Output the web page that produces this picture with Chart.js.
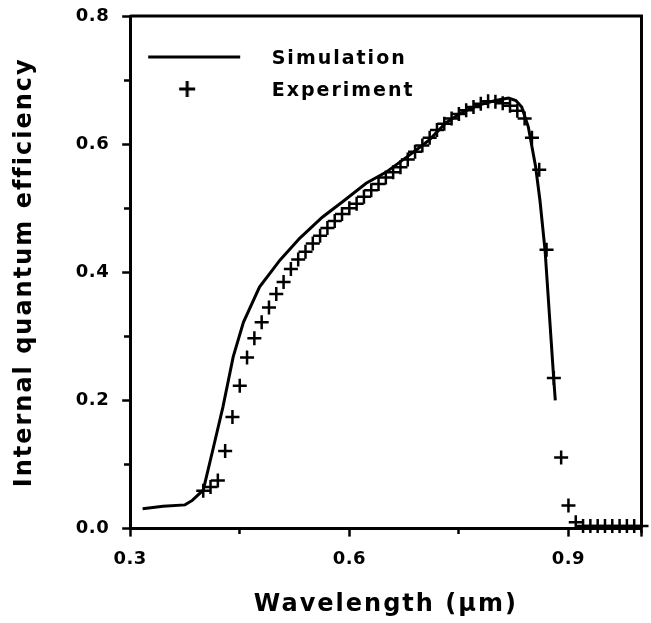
<!DOCTYPE html>
<html lang="en">
<head>
  <meta charset="UTF-8" />
  <title>Internal quantum efficiency</title>
  <script src="https://cdn.jsdelivr.net/npm/chart.js@4.4.1/dist/chart.umd.min.js"></script>
  <style>
    * { box-sizing: border-box; margin: 0; padding: 0; }
    html, body { width: 651px; height: 623px; background: #fff; overflow: hidden; }
    .chart-wrapper { position: relative; width: 651px; height: 623px; }
  </style>
</head>
<body>
  <div class="chart-wrapper">
    <canvas id="iqeChart"></canvas>
  </div>

  <script>
    // Simulation curve (wavelength in µm, IQE)
    const simWavelength = [0.317, 0.345, 0.375, 0.385, 0.400, 0.414, 0.427, 0.441, 0.455, 0.477,
                           0.505, 0.532, 0.563, 0.593, 0.623, 0.650, 0.686, 0.709, 0.732, 0.755,
                           0.777, 0.800, 0.818, 0.828, 0.836, 0.845, 0.855, 0.861, 0.868, 0.880, 0.882];
    const simIqe = [0.031, 0.035, 0.037, 0.044, 0.060, 0.127, 0.190, 0.268, 0.322, 0.377,
                    0.419, 0.453, 0.486, 0.512, 0.539, 0.556, 0.586, 0.606, 0.633, 0.650,
                    0.661, 0.668, 0.672, 0.668, 0.658, 0.627, 0.565, 0.512, 0.434, 0.231, 0.200];

    // Measured points
    const expWavelength = [0.40, 0.41, 0.42, 0.43, 0.44, 0.45, 0.46, 0.47, 0.48, 0.49,
                           0.50, 0.51, 0.52, 0.53, 0.54, 0.55, 0.56, 0.57, 0.58, 0.59,
                           0.60, 0.61, 0.62, 0.63, 0.64, 0.65, 0.66, 0.67, 0.68, 0.69,
                           0.70, 0.71, 0.72, 0.73, 0.74, 0.75, 0.76, 0.77, 0.78, 0.79,
                           0.80, 0.81, 0.82, 0.83, 0.84, 0.85, 0.86, 0.87, 0.88, 0.89,
                           0.90, 0.91, 0.92, 0.93, 0.94, 0.95, 0.96, 0.97, 0.98, 0.99, 1.00];
    const expIqe = [0.059, 0.065, 0.075, 0.121, 0.174, 0.223, 0.267, 0.297, 0.322, 0.345,
                    0.366, 0.385, 0.405, 0.420, 0.432, 0.445, 0.457, 0.469, 0.480, 0.491,
                    0.500, 0.507, 0.518, 0.528, 0.538, 0.548, 0.556, 0.564, 0.576, 0.588,
                    0.598, 0.610, 0.622, 0.632, 0.640, 0.647, 0.653, 0.658, 0.663, 0.667,
                    0.666, 0.664, 0.660, 0.652, 0.640, 0.610, 0.560, 0.435, 0.235, 0.111,
                    0.036, 0.010, 0.004, 0.004, 0.004, 0.004, 0.004, 0.004, 0.004, 0.004, 0.004];

    // Axis ticks
    const xTickValues = [0.3, 0.6, 0.9, 1.0];
    const xTickLabels = ['0.3', '0.6', '0.9', ''];
    const xMinorTicks = [0.45, 0.75];
    const yTickValues = [0.0, 0.2, 0.4, 0.6, 0.8];
    const yTickLabels = ['0.0', '0.2', '0.4', '0.6', '0.8'];
    const yMinorTicks = [0.1, 0.3, 0.5, 0.7];

    const seriesNames = ['Simulation', 'Experiment'];

    const simPoints = simWavelength.map((x, i) => ({ x: x, y: simIqe[i] }));
    const expPoints = expWavelength.map((x, i) => ({ x: x, y: expIqe[i] }));

    function labelFor(values, labels, v) {
      const i = values.findIndex(t => Math.abs(t - v) < 1e-6);
      return i >= 0 ? labels[i] : '';
    }

    // legend icons (line sample / cross), drawn on small canvases
    function makeLineIcon() {
      const c = document.createElement('canvas');
      c.width = 119; c.height = 12;
      const g = c.getContext('2d');
      g.strokeStyle = '#000'; g.lineWidth = 3;
      g.beginPath(); g.moveTo(5, 4); g.lineTo(97, 4); g.stroke();
      return c;
    }
    function makeCrossIcon() {
      const c = document.createElement('canvas');
      c.width = 119; c.height = 22;
      const g = c.getContext('2d');
      g.strokeStyle = '#000'; g.lineWidth = 3;
      g.beginPath();
      g.moveTo(36, 9); g.lineTo(52, 9);
      g.moveTo(44, 1); g.lineTo(44, 17);
      g.stroke();
      return c;
    }
    const legendIcons = [makeLineIcon(), makeCrossIcon()];

    // letter spacing: wide for titles/legend, tight for tick labels
    const spacingPlugin = {
      id: 'spacing',
      beforeLayout(chart) { chart.ctx.letterSpacing = '0.5px'; },
      beforeDraw(chart) { chart.ctx.letterSpacing = '2px'; },
      beforeDatasetsDraw(chart) { chart.ctx.letterSpacing = '0.5px'; },
      afterDraw(chart) { chart.ctx.letterSpacing = '0px'; }
    };

    // top and right edges of the box
    const framePlugin = {
      id: 'frame',
      beforeDatasetsDraw(chart) {
        const { ctx, chartArea: a } = chart;
        ctx.save();
        ctx.strokeStyle = '#000';
        ctx.lineWidth = 3;
        ctx.beginPath();
        ctx.moveTo(a.left, a.top);
        ctx.lineTo(a.right, a.top);
        ctx.lineTo(a.right, a.bottom);
        ctx.stroke();
        ctx.restore();
      }
    };

    Chart.defaults.font.family = '"DejaVu Sans", sans-serif';
    Chart.defaults.font.weight = 'bold';
    Chart.defaults.color = '#000';

    const ctx = document.getElementById('iqeChart').getContext('2d');
    new Chart(ctx, {
      type: 'line',
      data: {
        datasets: [{
          label: seriesNames[0],
          data: simPoints,
          borderColor: '#000',
          borderWidth: 3,
          pointRadius: 0,
          tension: 0,
          fill: false
        }, {
          label: seriesNames[1],
          data: expPoints,
          showLine: false,
          pointStyle: 'cross',
          pointRadius: 7,
          pointBorderWidth: 2.5,
          pointBorderColor: '#000',
          borderColor: '#000',
          clip: false
        }]
      },
      options: {
        responsive: true,
        maintainAspectRatio: false,
        animation: false,
        layout: { padding: { left: 0, right: 6, top: 16, bottom: 0 } },
        plugins: {
          tooltip: { enabled: false },
          legend: {
            position: 'chartArea',
            align: 'start',
            title: { display: true, text: ' ', font: { size: 10 }, padding: { top: 24.5, bottom: 0 } },
            labels: {
              usePointStyle: true,
              pointStyleWidth: 119,
              padding: 13,
              color: '#000',
              font: { size: 19, weight: 'bold' },
              generateLabels: () => seriesNames.map((name, i) => ({
                text: name,
                pointStyle: legendIcons[i],
                fontColor: '#000',
                lineWidth: 0,
                hidden: false,
                datasetIndex: i
              }))
            }
          }
        },
        scales: {
          x: {
            type: 'linear',
            position: 'bottom',
            min: 0.3,
            max: 1.0,
            afterBuildTicks: axis => { axis.ticks = xTickValues.map(v => ({ value: v })); },
            afterFit: axis => { axis.paddingRight = 0; },
            ticks: {
              padding: 12,
              z: 1,
              font: { size: 18, weight: 'bold' },
              maxRotation: 0,
              autoSkip: false,
              callback: v => labelFor(xTickValues, xTickLabels, v)
            },
            grid: { drawOnChartArea: false, tickLength: 8, tickWidth: 2.5, tickColor: '#000' },
            border: { color: '#000', width: 3 },
            title: {
              display: true,
              text: 'Wavelength (µm)',
              font: { size: 24, weight: 'bold' },
              padding: { top: 8, bottom: 4 }
            }
          },
          x2: {
            type: 'linear',
            axis: 'x',
            position: { y: 0 },
            min: 0.3,
            max: 1.0,
            afterBuildTicks: axis => { axis.ticks = xMinorTicks.map(v => ({ value: v })); },
            ticks: { display: false },
            grid: { drawOnChartArea: false, tickLength: 5, tickWidth: 2.5, tickColor: '#000' },
            border: { display: false }
          },
          y: {
            type: 'linear',
            position: 'left',
            min: 0,
            max: 0.8,
            afterBuildTicks: axis => { axis.ticks = yTickValues.map(v => ({ value: v })); },
            afterFit: axis => { axis.paddingTop = 0; },
            ticks: {
              padding: 13,
              z: 1,
              font: { size: 18, weight: 'bold' },
              autoSkip: false,
              callback: v => labelFor(yTickValues, yTickLabels, v)
            },
            grid: { drawOnChartArea: false, tickLength: 8, tickWidth: 2.5, tickColor: '#000' },
            border: { color: '#000', width: 3 },
            title: {
              display: true,
              text: 'Internal quantum efficiency',
              font: { size: 24, weight: 'bold' },
              padding: { top: 10, bottom: 24 }
            }
          },
          y2: {
            type: 'linear',
            axis: 'y',
            position: { x: 0.3 },
            min: 0,
            max: 0.8,
            afterBuildTicks: axis => { axis.ticks = yMinorTicks.map(v => ({ value: v })); },
            ticks: { display: false },
            grid: { drawOnChartArea: false, tickLength: 6, tickWidth: 2.5, tickColor: '#000' },
            border: { display: false }
          }
        }
      },
      plugins: [spacingPlugin, framePlugin]
    });
  </script>
</body>
</html>
